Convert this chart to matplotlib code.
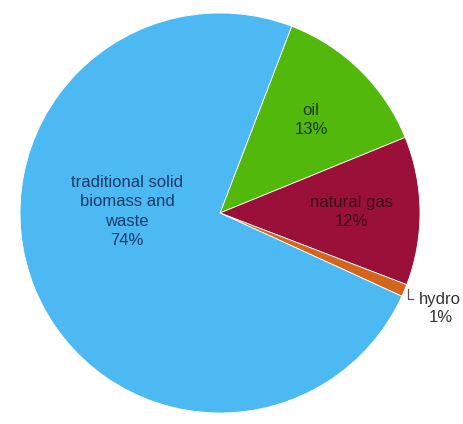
import numpy as np
import matplotlib
matplotlib.use("Agg")
import matplotlib.pyplot as plt

plt.rcParams['font.family'] = ['Liberation Sans', 'DejaVu Sans']

# energy sources, clockwise from the top
labels = ['oil', 'natural gas', 'hydro', 'traditional solid\nbiomass and\nwaste']
shares = [13, 12, 1, 74]
colors = ['#52b80c', '#9a1038', '#d2661c', '#4cb9f2']
text_colors = ['#1f3a10', '#3a0a1a', '#333333', '#1a3a6a']

W, H = 464, 424
cx, cy, R = 220, H - 213, 200

fig = plt.figure(figsize=(W / 100, H / 100), dpi=100)
ax = fig.add_axes([0, 0, 1, 1])
wedges, _ = ax.pie(shares, colors=colors, startangle=69, counterclock=False,
                   center=(cx, cy), radius=R, frame=False,
                   wedgeprops=dict(edgecolor='white', linewidth=0.6))
ax.set_xlim(0, W)
ax.set_ylim(0, H)
ax.set_aspect('equal')
ax.axis('off')

fs = 12
dist = [0.65, 0.66, None, 0.47]
for w, lab, val, tc, d in zip(wedges, labels, shares, text_colors, dist):
    mid = np.deg2rad((w.theta1 + w.theta2) / 2)
    txt = f'{lab}\n{val}%'
    if d is None:
        # small slice gets an outside label with an L-shaped leader
        ex, ey = cx + R * np.cos(mid), cy + R * np.sin(mid)
        ax.plot([ex + 4, ex + 4, ex + 9], [ey + 2, ey - 8, ey - 8],
                color='#555555', lw=0.9)
        ax.text(ex + 36, ey - 18, txt, ha='center', va='center',
                fontsize=fs, color=tc, linespacing=1.25)
        continue
    x, y = cx + d * R * np.cos(mid), cy + d * R * np.sin(mid)
    if lab.startswith('traditional'):
        x, y = x - 6, y + 37
    ax.text(x, y, txt, ha='center', va='center', fontsize=fs,
            color=tc, linespacing=1.35)

fig.savefig('out.png', dpi=100)
